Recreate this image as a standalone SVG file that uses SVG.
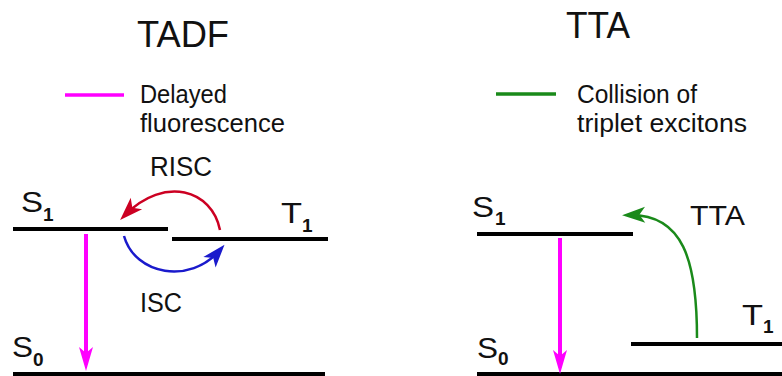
<svg xmlns="http://www.w3.org/2000/svg" width="782" height="376" viewBox="0 0 782 376">
<style>
text{font-family:"Liberation Sans",Arial,sans-serif;fill:#111}
.title{font-size:36px}
.lbl{font-size:25px}
.arcl{font-size:27px}
.lvl{font-size:30px}
.sub{font-size:19px;font-weight:bold}
.level{stroke:#000;stroke-width:4;fill:none}
.leg{stroke-width:3.5;fill:none}
.arc{stroke-width:2.5;fill:none}
</style>
<defs>
<marker id="mRed" markerUnits="userSpaceOnUse" markerWidth="30" markerHeight="30" viewBox="-16 -10 26 20" refX="0" refY="0" orient="auto" overflow="visible"><path d="M6,0 L-14,-7 L-9,0 L-14,7 Z" fill="#cc0022"/></marker>
<marker id="mBlue" markerUnits="userSpaceOnUse" markerWidth="30" markerHeight="30" viewBox="-16 -10 26 20" refX="0" refY="0" orient="auto" overflow="visible"><path d="M6,0 L-14,-7 L-9,0 L-14,7 Z" fill="#1a1acc"/></marker>
<marker id="mGreen" markerUnits="userSpaceOnUse" markerWidth="30" markerHeight="30" viewBox="-16 -10 26 20" refX="0" refY="0" orient="auto" overflow="visible"><path d="M6,0 L-14,-7 L-9,0 L-14,7 Z" fill="#1a8a1a"/></marker>
</defs>

<g id="titles">
<text class="title" x="137" y="47" textLength="92" lengthAdjust="spacingAndGlyphs">TADF</text>
<text class="title" x="566" y="38" textLength="64" lengthAdjust="spacingAndGlyphs">TTA</text>
</g>

<g id="legend-tadf">
<line class="leg" x1="65" y1="95" x2="124" y2="95" stroke="#ff00ff"/>
<text class="lbl" x="140" y="103" textLength="87" lengthAdjust="spacingAndGlyphs">Delayed</text>
<text class="lbl" x="140" y="132" textLength="145" lengthAdjust="spacingAndGlyphs">fluorescence</text>
</g>
<g id="legend-tta">
<line class="leg" x1="496" y1="94" x2="556" y2="94" stroke="#1a8a1a"/>
<text class="lbl" x="577" y="103" textLength="120" lengthAdjust="spacingAndGlyphs">Collision of</text>
<text class="lbl" x="577" y="132" textLength="170" lengthAdjust="spacingAndGlyphs">triplet excitons</text>
</g>

<g id="tadf-S1"><line class="level" x1="13" y1="229" x2="168" y2="229"/><text class="lvl" x="21" y="212" textLength="22" lengthAdjust="spacingAndGlyphs">S</text><text class="sub" x="43" y="221">1</text></g>
<g id="tadf-T1"><line class="level" x1="172" y1="239" x2="328" y2="239"/><text class="lvl" x="281" y="223" textLength="21" lengthAdjust="spacingAndGlyphs">T</text><text class="sub" x="302" y="232">1</text></g>
<g id="tadf-S0"><line class="level" x1="13" y1="374" x2="325" y2="374"/><text class="lvl" x="12" y="357" textLength="21" lengthAdjust="spacingAndGlyphs">S</text><text class="sub" x="33" y="366">0</text></g>

<g id="tta-S1"><line class="level" x1="477" y1="234" x2="633" y2="234"/><text class="lvl" x="472" y="217" textLength="22" lengthAdjust="spacingAndGlyphs">S</text><text class="sub" x="495" y="225">1</text></g>
<g id="tta-T1"><line class="level" x1="631" y1="344" x2="782" y2="344"/><text class="lvl" x="742" y="325" textLength="21" lengthAdjust="spacingAndGlyphs">T</text><text class="sub" x="763" y="333">1</text></g>
<g id="tta-S0"><line class="level" x1="477" y1="374" x2="782" y2="374"/><text class="lvl" x="477" y="358" textLength="21" lengthAdjust="spacingAndGlyphs">S</text><text class="sub" x="498" y="365">0</text></g>

<g id="connectors">
<line x1="86" y1="234" x2="86" y2="356" stroke="#ff00ff" stroke-width="4"/>
<path d="M86,371 L79,347 L86,353 L93,347 Z" fill="#ff00ff"/>
<line x1="560" y1="238" x2="560" y2="359" stroke="#ff00ff" stroke-width="4"/>
<path d="M560,374 L553,350 L560,356 L567,350 Z" fill="#ff00ff"/>
<path class="arc" d="M220,230 C212,190 165,175 125,215" stroke="#cc0022" marker-end="url(#mRed)"/>
<path class="arc" d="M124,236 C135,275 190,285 220,250" stroke="#1a1acc" marker-end="url(#mBlue)"/>
<path class="arc" d="M697,338 C697,260 683,214 629,215" stroke="#1a8a1a" marker-end="url(#mGreen)"/>
</g>

<g id="arc-labels">
<text class="arcl" x="150" y="176" textLength="62" lengthAdjust="spacingAndGlyphs">RISC</text>
<text class="arcl" x="140" y="312" textLength="42" lengthAdjust="spacingAndGlyphs">ISC</text>
<text class="arcl" x="690" y="225" textLength="55" lengthAdjust="spacingAndGlyphs">TTA</text>
</g>
</svg>
